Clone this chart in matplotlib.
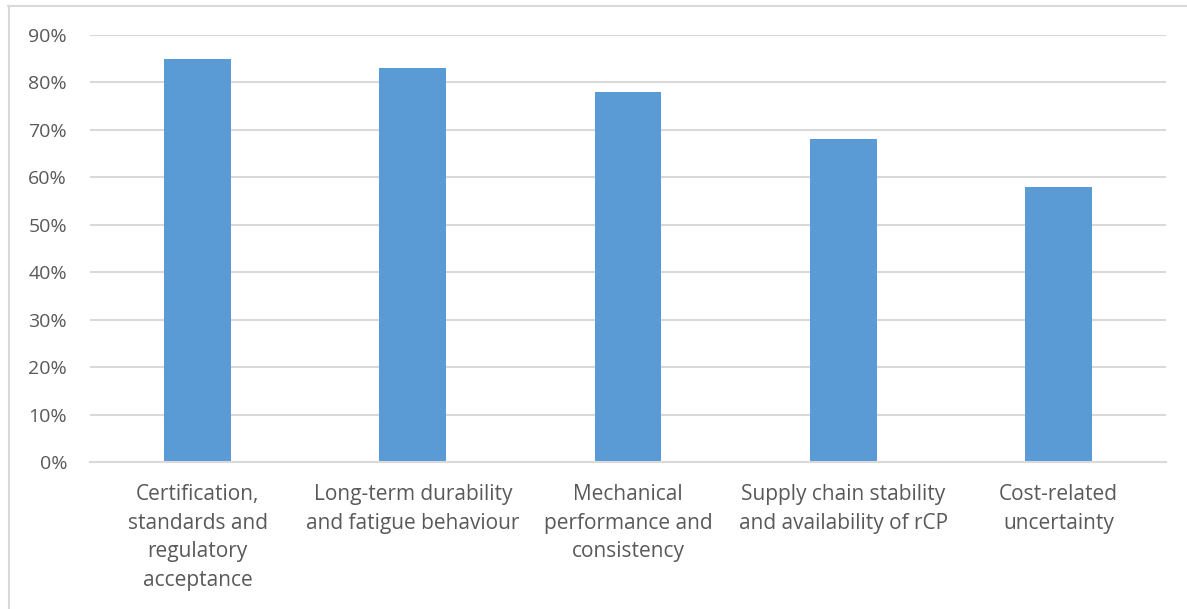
import matplotlib.pyplot as plt
from matplotlib.lines import Line2D
from matplotlib.ticker import PercentFormatter

# Share of respondents naming each barrier
categories = [
    "Certification,\nstandards and\nregulatory\nacceptance",
    "Long-term durability\nand fatigue behaviour",
    "Mechanical\nperformance and\nconsistency",
    "Supply chain stability\nand availability of rCP",
    "Cost-related\nuncertainty",
]
values = [0.85, 0.83, 0.78, 0.68, 0.58]
yticks = [0, 0.1, 0.2, 0.3, 0.4, 0.5, 0.6, 0.7, 0.8, 0.9]

text_color = "#595959"
grid_color = "#d9d9d9"
bar_color = "#5b9bd5"

plt.rcParams["font.family"] = ["Open Sans", "DejaVu Sans"]

fig = plt.figure(figsize=(11.87, 6.09), dpi=100)
ax = fig.add_axes([90 / 1187, 147 / 609, 1076 / 1187, 427 / 609])

x = range(len(categories))
ax.bar(x, values, width=0.31, color=bar_color, zorder=3)

ax.set_xlim(-0.5, len(categories) - 0.5)
ax.set_ylim(0, 0.9)
ax.set_yticks(yticks)
ax.yaxis.set_major_formatter(PercentFormatter(1.0, decimals=0))
ax.set_xticks(list(x))
ax.set_xticklabels(categories, linespacing=1.47, fontsize=15)

ax.grid(axis="y", color=grid_color, linewidth=1.5, zorder=0)
for side in ["top", "right", "left"]:
    ax.spines[side].set_visible(False)
ax.spines["bottom"].set_color(grid_color)
ax.spines["bottom"].set_linewidth(1.5)
ax.spines["bottom"].set_zorder(4)

ax.tick_params(axis="both", length=0, colors=text_color)
ax.tick_params(axis="y", pad=16.5, labelsize=14)
ax.tick_params(axis="x", pad=16)

# chart frame (top and left edges)
fig.add_artist(Line2D([8 / 1187, 1], [1 - 6 / 609, 1 - 6 / 609],
                      transform=fig.transFigure, color=grid_color, linewidth=1.5))
fig.add_artist(Line2D([9 / 1187, 9 / 1187], [0, 1 - 6 / 609],
                      transform=fig.transFigure, color=grid_color, linewidth=1.5))

fig.savefig("out.png", dpi=100, facecolor="white")
